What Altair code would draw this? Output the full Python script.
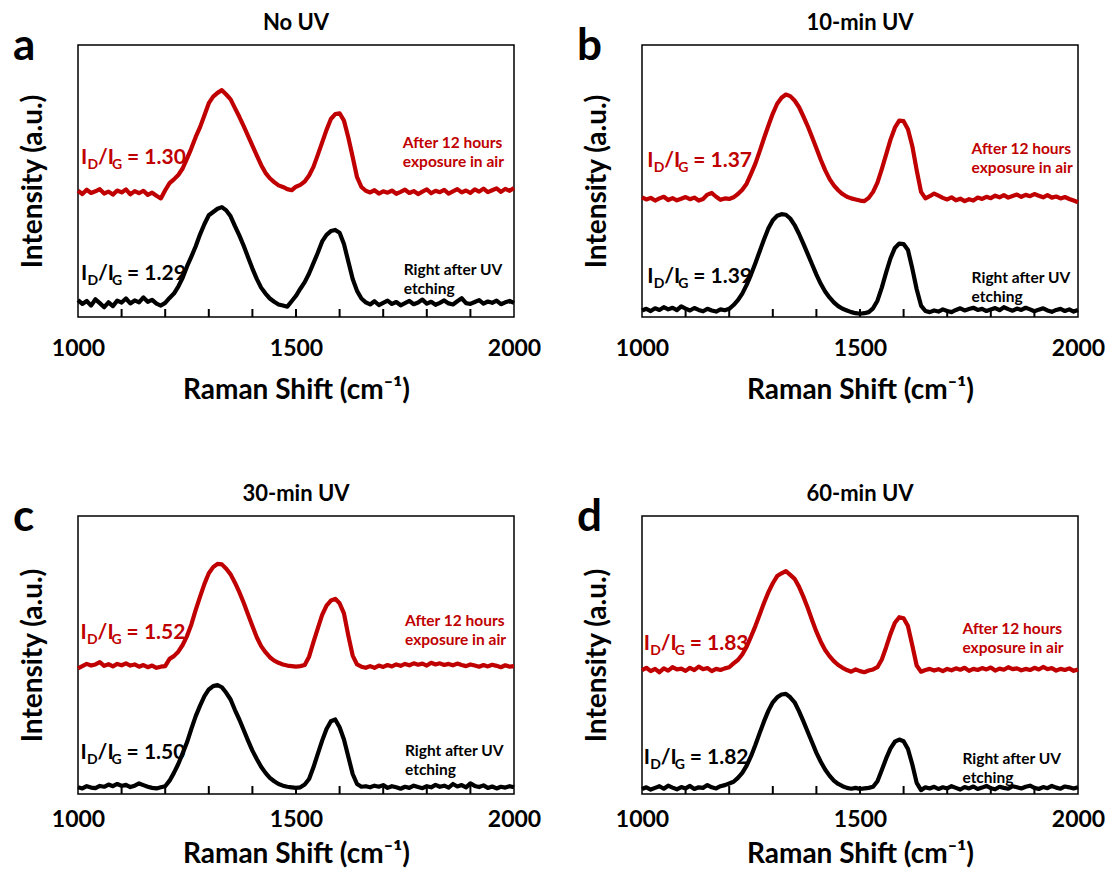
import altair as alt
import pandas as pd

# ---------------- data ----------------
wavenumber = list(range(1000, 2001, 10))
panel_titles = ["No UV", "10-min UV", "30-min UV", "60-min UV"]
panel_letters = ["a", "b", "c", "d"]
ratio_after = ["1.30", "1.37", "1.52", "1.83"]
ratio_right = ["1.29", "1.39", "1.50", "1.82"]
series_names = ["after", "right"]
series_text = ["After 12 hours\nexposure in air", "Right after UV\netching"]
x_tick_labels = [1000, 1500, 2000]
minor_ticks = [1100, 1200, 1300, 1400, 1500, 1600, 1700, 1800, 1900]

after_a = [46.4, 45.2, 46.8, 45.6, 46.2, 47.0, 45.4, 46.1, 45.0, 46.5, 45.8, 46.9, 45.1, 46.3, 45.5, 46.4, 44.9, 45.7, 44.6, 43.6,
           46.6, 49.2, 50.6, 52.2, 54.6, 58.2, 62.0, 66.2, 69.8, 74.2, 78.6, 81.0, 82.4, 83.4, 81.8, 80.0,
           76.8, 73.6, 70.2, 66.6, 63.0, 59.4, 55.9, 53.0, 51.0, 49.6, 48.4, 47.8, 47.0, 46.6, 47.9,
           48.6, 49.8, 52.0, 55.2, 59.6, 64.2, 68.8, 72.8, 74.6, 74.9, 72.2, 66.0, 58.8, 51.4, 47.8, 46.4,
           45.8, 46.6, 45.4, 46.2, 45.7, 46.5, 45.3, 46.0, 46.8, 45.6, 46.3, 45.2, 46.1, 46.9, 45.5, 46.4, 45.9, 46.7,
           45.4, 46.2, 47.0, 45.8, 46.5, 45.6, 46.9, 46.1, 47.2, 45.9, 46.6, 47.3, 46.0, 47.1, 46.4, 47.4]
right_a = [6.2, 4.8, 5.9, 4.2, 6.5, 5.1, 3.6, 5.4, 4.0, 6.0, 5.3, 6.8, 5.0, 6.1, 5.4, 7.2, 5.6, 6.3, 4.9, 4.2,
           5.2, 7.0, 8.6, 11.2, 14.4, 18.6, 22.2, 26.0, 30.4, 34.2, 37.4, 38.6, 39.8, 40.4, 39.2, 37.0,
           33.4, 30.0, 26.2, 22.0, 17.8, 14.0, 10.8, 8.6, 6.8, 5.6, 4.6, 4.2, 3.8, 5.8, 7.8,
           10.4, 12.8, 16.0, 19.8, 23.6, 27.8, 30.2, 31.6, 32.0, 31.0, 26.8, 20.4, 14.0, 9.6, 6.8, 5.4,
           4.6, 5.8, 4.4, 5.2, 6.0, 4.8, 5.5, 4.3, 5.1, 5.9, 4.7, 5.3, 6.4, 4.9, 5.6, 4.5, 5.2, 6.1,
           5.0, 4.6, 5.8, 6.9, 5.1, 4.8, 5.5, 6.2, 4.9, 5.7, 5.2, 6.0, 4.7, 5.4, 5.9, 5.2]

after_b = [44.0, 43.2, 43.8, 42.8, 43.6, 44.2, 43.0, 43.7, 42.9, 43.5, 44.1, 43.3, 43.9, 42.8, 43.4, 45.0, 45.6, 44.2, 43.1, 43.6,
           43.4, 44.0, 45.2, 46.8, 49.0, 52.6, 56.4, 61.0, 65.8, 70.4, 74.8, 78.4, 80.6, 81.8, 81.2, 79.6,
           77.2, 73.8, 70.2, 66.2, 62.0, 57.8, 54.0, 50.8, 48.4, 46.6, 45.2, 44.2, 43.6, 43.2, 42.8,
           42.6, 43.8, 46.0, 49.4, 54.4, 59.8, 65.2, 69.6, 72.2, 72.0, 69.0, 62.8, 54.0, 46.0, 43.6, 44.4,
           45.4, 44.6, 43.8, 43.2, 44.0, 42.9, 43.5, 42.6, 43.3, 42.8, 43.9, 43.4, 44.2, 43.7, 44.6, 44.0, 44.8, 43.9,
           44.5, 45.0, 44.2, 44.9, 44.4, 45.2, 44.6, 44.0, 44.8, 43.9, 44.3, 43.6, 44.1, 43.4, 42.8, 42.2]
right_b = [2.4, 3.0, 2.2, 3.2, 2.6, 3.6, 2.8, 3.4, 2.5, 3.9, 3.1, 2.4, 3.3, 2.6, 2.1, 3.0, 2.4, 2.0, 2.8, 2.5,
           3.0, 4.4, 6.2, 8.6, 11.8, 15.6, 19.8, 24.2, 28.6, 32.6, 35.6, 37.2, 37.8, 37.6, 36.2, 33.8,
           30.6, 27.0, 23.2, 19.4, 15.6, 12.2, 9.4, 7.2, 5.4, 4.0, 3.0, 2.4, 1.8, 1.4, 1.2,
           1.4, 1.8, 3.2, 6.0, 10.8, 16.4, 21.6, 25.4, 27.0, 26.8, 24.6, 17.8, 10.2, 4.2, 2.2, 1.8,
           2.4, 2.0, 2.8, 2.2, 1.8, 2.6, 3.2, 2.4, 2.9, 3.4, 2.6, 3.0, 2.2, 2.8, 3.3, 2.5, 3.6, 2.9,
           2.3, 3.1, 2.6, 3.4, 2.8, 2.1, 2.7, 3.2, 2.4, 1.9, 2.6, 3.0, 2.2, 2.8, 2.0, 2.6]

after_c = [45.2, 46.0, 46.8, 46.2, 46.6, 47.4, 46.1, 46.7, 45.9, 46.8, 46.3, 47.0, 46.2, 46.6, 45.8, 46.4, 45.6, 46.2, 45.4, 45.8,
           46.0, 48.6, 49.6, 51.2, 53.6, 56.8, 61.0, 66.2, 71.0, 75.6, 79.4, 81.6, 82.8, 82.6, 81.0, 79.0,
           76.0, 72.6, 68.8, 64.6, 60.4, 56.4, 53.2, 51.0, 49.2, 48.0, 47.2, 46.6, 46.2, 46.0, 45.8,
           46.0, 46.4, 49.4, 54.6, 59.6, 64.4, 67.8, 69.6, 70.2, 68.6, 65.0, 57.0, 49.8, 46.6, 45.8, 45.4,
           46.0, 45.4, 46.2, 45.7, 46.4, 45.9, 46.6, 46.1, 46.8, 46.3, 47.0, 46.5, 46.9, 46.2, 47.2, 46.6, 47.0, 46.4,
           46.8, 46.3, 46.9, 46.4, 46.0, 46.6, 46.2, 45.8, 46.4, 45.9, 46.5, 46.1, 45.6, 46.3, 45.8, 46.0]
right_c = [2.4, 2.0, 2.8, 2.3, 2.1, 2.9, 2.6, 3.4, 2.8, 3.6, 2.9, 3.3, 2.5, 3.0, 3.8, 3.2, 2.6, 2.2, 2.0, 2.4,
           2.8, 4.8, 7.6, 10.8, 14.6, 18.6, 23.4, 28.0, 31.8, 35.2, 37.6, 38.8, 39.2, 38.4, 36.4, 34.0,
           30.2, 26.8, 23.0, 19.2, 15.6, 12.6, 9.8, 7.6, 5.8, 4.6, 3.6, 3.0, 2.6, 2.4, 2.2,
           2.4, 3.4, 5.4, 9.6, 14.4, 19.2, 23.4, 26.2, 26.8, 24.0, 19.6, 13.4, 7.2, 3.6, 2.6, 2.8,
           2.4, 3.0, 2.6, 3.2, 2.2, 2.8, 2.4, 1.9, 2.6, 2.2, 3.0, 2.5, 2.1, 2.8, 2.4, 3.3, 2.6, 3.0,
           2.3, 3.6, 2.7, 3.2, 2.4, 3.8, 2.9, 2.5, 3.1, 2.2, 2.7, 2.0, 2.6, 2.3, 2.8, 2.4]

after_d = [44.6, 45.4, 44.2, 45.0, 43.8, 45.2, 44.4, 45.6, 44.8, 45.1, 44.3, 45.4, 44.6, 45.8, 44.9, 45.3, 44.2, 45.0, 44.6, 45.2,
           45.6, 47.0, 48.2, 50.2, 53.0, 56.6, 60.4, 64.6, 68.8, 72.6, 75.8, 78.4, 79.4, 80.2, 78.8, 77.4,
           74.6, 71.0, 67.0, 62.6, 58.4, 54.8, 51.8, 49.6, 47.8, 46.4, 45.4, 44.6, 44.0, 44.8, 44.2,
           43.8, 44.4, 44.8, 45.6, 48.4, 52.8, 57.6, 61.6, 63.6, 63.2, 60.4, 53.4, 46.2, 44.0, 44.6, 45.0,
           44.4, 44.9, 44.2, 45.0, 44.5, 45.2, 44.7, 45.4, 44.3, 45.0, 44.6, 45.3, 44.8, 45.5, 44.4, 45.1, 44.7, 45.6,
           44.9, 45.2, 44.5, 45.0, 44.6, 45.4, 44.8, 45.7, 44.9, 45.3, 44.4, 45.0, 44.6, 45.2, 44.3, 44.8]
right_d = [1.8, 2.4, 1.6, 2.2, 2.8, 1.9, 3.0, 2.3, 1.7, 2.5, 2.0, 2.9, 1.8, 2.4, 2.2, 3.2, 2.4, 2.0, 2.8, 3.2,
           3.8, 4.4, 5.8, 7.6, 10.2, 13.6, 17.6, 22.0, 26.2, 30.0, 33.0, 34.8, 35.8, 36.0, 34.8, 33.0,
           29.8, 26.2, 22.4, 18.6, 14.8, 11.6, 8.8, 6.6, 4.8, 3.6, 2.8, 2.2, 1.9, 2.2, 1.8,
           2.0, 2.2, 2.6, 4.6, 8.6, 12.8, 16.4, 18.8, 19.6, 19.0, 16.2, 10.6, 4.0, 1.4, 2.4, 2.0,
           2.6, 1.8, 2.4, 2.0, 2.8, 2.2, 1.6, 2.5, 2.0, 2.7, 1.8, 2.3, 2.9, 2.1, 1.7, 2.6, 2.2, 1.9,
           2.8, 2.4, 2.0, 2.6, 3.0, 2.2, 1.8, 2.5, 2.1, 2.9, 2.3, 1.9, 2.7, 2.4, 2.0, 2.4]

after_series = [after_a, after_b, after_c, after_d]
right_series = [right_a, right_b, right_c, right_d]

# ---------------- styling / layout ----------------
RED = "#C00000"
BLACK = "#000000"
FONT = "Lato"
W = 436
heights = [272, 272, 278, 278]
label_pad = [20, 20, 14, 14]
title_pad = [16, 16, 9, 9]

# annotation anchors (x in cm-1, y in plot units) per panel: ratio labels and side labels
ratio_pos = [[(1007, 56.3), (1007, 13.5)], [(1012, 55.0), (1012, 12.6)],
             [(1006, 55.8), (1006, 12.6)], [(1004, 51.7), (1004, 10.9)]]
side_pos = [[(1745, 62.0), (1747, 15.3)], [(1756, 60.0), (1756, 12.6)],
            [(1750, 60.6), (1750, 13.8)], [(1735, 57.5), (1735, 10.9)]]

color = alt.Color("s:N", scale=alt.Scale(domain=series_names, range=[RED, BLACK]), legend=None)
xsc = alt.Scale(domain=[1000, 2000], nice=False, zero=False)
ysc = alt.Scale(domain=[0, 100], nice=False)

y_axis = alt.Axis(labels=False, ticks=False, domain=False, grid=False,
                  title="Intensity (a.u.)", titleFontSize=28, titleFontWeight="bold",
                  titleColor="black", titlePadding=31)
Y = alt.Y("v:Q", scale=ysc, axis=y_axis)


def panel(i):
    n = len(wavenumber)
    H = heights[i]
    assert len(after_series[i]) == n and len(right_series[i]) == n
    x_axis = alt.Axis(values=x_tick_labels, format="d", ticks=False, domain=False, grid=False,
                      labelFontSize=23, labelFontWeight="bold", labelColor="black",
                      labelPadding=label_pad[i], labelFlush=False,
                      title="Raman Shift (cm⁻¹)", titleFontSize=28, titleFontWeight="bold",
                      titleColor="black", titlePadding=title_pad[i])
    X = alt.X("w:Q", scale=xsc, axis=x_axis)
    df = pd.DataFrame({
        "w": wavenumber + wavenumber,
        "v": after_series[i] + right_series[i],
        "s": ["after"] * n + ["right"] * n,
    })
    ticks = alt.Chart(pd.DataFrame({"w": minor_ticks})).mark_tick(
        color="black", thickness=2, size=8, orient="vertical", opacity=1
    ).encode(
        x=X, y=alt.value(H - 4),
    )
    lines = alt.Chart(df).mark_line(strokeWidth=4.2, strokeJoin="round").encode(
        x=X, y=Y, color=color, detail="s:N",
    )
    lab = pd.DataFrame({
        "w": [ratio_pos[i][0][0], ratio_pos[i][1][0]],
        "v": [ratio_pos[i][0][1], ratio_pos[i][1][1]],
        "s": series_names,
        "r": ["= " + ratio_after[i], "= " + ratio_right[i]],
    })
    base = alt.Chart(lab).encode(x=X, y=Y, color=color)
    big = dict(align="left", baseline="alphabetic", fontSize=21, fontWeight="bold")
    sub = dict(align="left", baseline="alphabetic", fontSize=14, fontWeight="bold")
    p1 = base.mark_text(**big).encode(text=alt.value("I"))
    p2 = base.mark_text(dx=6.5, dy=5, **sub).encode(text=alt.value("D"))
    p3 = base.mark_text(dx=17, **big).encode(text=alt.value("/I"))
    p4 = base.mark_text(dx=31, dy=5, **sub).encode(text=alt.value("G"))
    p5 = base.mark_text(dx=46, **big).encode(text="r:N")

    side = pd.DataFrame({
        "w": [side_pos[i][0][0], side_pos[i][1][0]],
        "v": [side_pos[i][0][1], side_pos[i][1][1]],
        "s": series_names,
        "t": series_text,
    })
    side_txt = alt.Chart(side).mark_text(align="left", baseline="alphabetic", fontSize=15.5,
                                         fontWeight="bold", lineBreak="\n", lineHeight=19).encode(
        x=X, y=Y, color=color, text="t:N",
    )
    letter = alt.Chart(pd.DataFrame({"t": [panel_letters[i]]})).mark_text(
        align="left", baseline="alphabetic", fontSize=44, fontWeight="bold", color="black"
    ).encode(x=alt.value(-65), y=alt.value(15), text="t:N")
    title = alt.Chart(pd.DataFrame({"t": [panel_titles[i]]})).mark_text(
        align="center", baseline="alphabetic", fontSize=22, fontWeight="bold", color="black"
    ).encode(x=alt.value(W / 2), y=alt.value(-15), text="t:N")

    return alt.layer(ticks, lines, p1, p2, p3, p4, p5, side_txt, letter, title).properties(
        width=W, height=H,
    )


chart = alt.concat(
    panel(0), panel(1), panel(2), panel(3),
    columns=2,
    spacing={"row": 199, "column": 128},
    bounds="flush",
).properties(
    padding={"left": 4, "top": 3, "right": 0, "bottom": 0},
).configure(
    font=FONT,
).configure_view(
    stroke="black", strokeWidth=1.5,
)

chart.save("out.html", embed_options={"renderer": "svg", "actions": False})
